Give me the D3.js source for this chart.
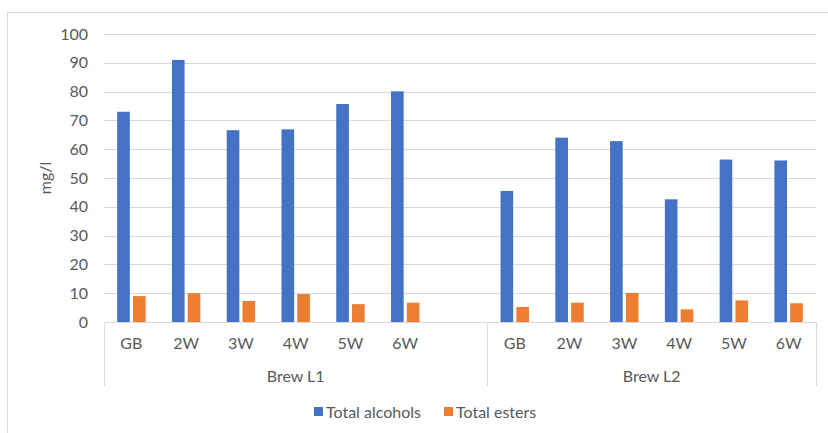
<!DOCTYPE html>
<html>
<head>
<meta charset="utf-8">
<script src="https://cdn.jsdelivr.net/npm/d3@7"></script>
<style>
  html, body { margin: 0; padding: 0; background: #fff; }
  svg { display: block; font-family: Lato, "Open Sans", sans-serif; }
</style>
</head>
<body>
<svg id="chart" width="828" height="433"></svg>
<script>
// Brew groups and their sampling points (Brew L1 keeps an empty trailing slot)
const groups = ["Brew L1", "Brew L2"];
const l1Points = ["GB", "2W", "3W", "4W", "5W", "6W", ""];
const l2Points = ["GB", "2W", "3W", "4W", "5W", "6W"];

// Series values, mg/l
const seriesNames = ["Total alcohols", "Total esters"];
const alcoholsL1 = [73.0, 91.0, 66.6, 66.9, 75.7, 80.1, null];
const alcoholsL2 = [45.5, 64.0, 62.8, 42.6, 56.4, 56.1];
const estersL1 = [9.0, 10.0, 7.3, 9.7, 6.2, 6.7, null];
const estersL2 = [5.2, 6.7, 10.1, 4.4, 7.5, 6.5];

const yTicks = [0, 10, 20, 30, 40, 50, 60, 70, 80, 90, 100];
const colors = ["#4472C4", "#ED7D31"];

// Flattened category rows
const rows = [];
l1Points.forEach((p, i) => rows.push({ key: "L1-" + i, group: groups[0], label: p, values: [alcoholsL1[i], estersL1[i]] }));
l2Points.forEach((p, i) => rows.push({ key: "L2-" + i, group: groups[1], label: p, values: [alcoholsL2[i], estersL2[i]] }));

const svg = d3.select("#chart");
const plot = { left: 104, right: 816, top: 34, bottom: 322 };
const textColor = "#595959";
const lineColor = "#D9D9D9";
const fontSize = "16px";

// Outer chart frame
svg.append("rect")
  .attr("x", 7.5).attr("y", 12.5)
  .attr("width", 840).attr("height", 440)
  .attr("fill", "none").attr("stroke", lineColor).attr("stroke-width", 1);

const x = d3.scaleBand().domain(rows.map(d => d.key)).range([plot.left, plot.right]).padding(0);
const clusterWidth = x.bandwidth() * 0.519;
const xs = d3.scaleBand().domain(seriesNames)
  .range([(x.bandwidth() - clusterWidth) / 2, (x.bandwidth() + clusterWidth) / 2])
  .paddingInner(0.2).paddingOuter(0);
const y = d3.scaleLinear().domain([0, 100]).range([plot.bottom, plot.top]);

// Horizontal gridlines
svg.append("g")
  .selectAll("line")
  .data(yTicks.filter(t => t > 0))
  .join("line")
  .attr("x1", plot.left).attr("x2", plot.right)
  .attr("y1", d => Math.round(y(d)) + 0.5).attr("y2", d => Math.round(y(d)) + 0.5)
  .attr("stroke", lineColor).attr("stroke-width", 1);

// Y axis labels
const yAxis = d3.axisLeft(y).tickValues(yTicks).tickSize(0).tickPadding(0);
const yG = svg.append("g").attr("transform", `translate(${plot.left - 16},0)`).call(yAxis);
yG.select(".domain").remove();
yG.selectAll("text").attr("fill", textColor).style("font-size", fontSize).style("font-family", "Lato, sans-serif");

// Y axis title
svg.append("text")
  .attr("transform", `translate(51,${(plot.top + plot.bottom) / 2}) rotate(-90)`)
  .attr("text-anchor", "middle")
  .attr("fill", textColor).style("font-size", fontSize)
  .text("mg/l");

// Bars
const cat = svg.append("g").selectAll("g")
  .data(rows)
  .join("g")
  .attr("transform", d => `translate(${x(d.key)},0)`);

cat.selectAll("rect")
  .data(d => d.values.map((v, i) => ({ name: seriesNames[i], value: v, i })).filter(e => e.value != null))
  .join("rect")
  .attr("x", d => xs(d.name))
  .attr("width", xs.bandwidth())
  .attr("y", d => y(d.value))
  .attr("height", d => y(0) - y(d.value))
  .attr("fill", d => colors[d.i]);

// Category axis line
svg.append("line")
  .attr("x1", plot.left).attr("x2", plot.right)
  .attr("y1", plot.bottom + 0.5).attr("y2", plot.bottom + 0.5)
  .attr("stroke", lineColor).attr("stroke-width", 1);

// Inner category labels
svg.append("g").selectAll("text")
  .data(rows)
  .join("text")
  .attr("x", d => x(d.key) + x.bandwidth() / 2)
  .attr("y", 349)
  .attr("text-anchor", "middle")
  .attr("fill", textColor).style("font-size", fontSize)
  .text(d => d.label);

// Group separators and group labels
const groupSpans = groups.map(g => {
  const keys = rows.filter(r => r.group === g).map(r => r.key);
  return { name: g, x0: x(keys[0]), x1: x(keys[keys.length - 1]) + x.bandwidth() };
});
const sepX = Array.from(new Set(groupSpans.flatMap(s => [s.x0, s.x1])));
svg.append("g").selectAll("line")
  .data(sepX)
  .join("line")
  .attr("x1", d => Math.round(d) + 0.5).attr("x2", d => Math.round(d) + 0.5)
  .attr("y1", plot.bottom).attr("y2", 386)
  .attr("stroke", lineColor).attr("stroke-width", 1);

svg.append("g").selectAll("text")
  .data(groupSpans)
  .join("text")
  .attr("x", d => (d.x0 + d.x1) / 2)
  .attr("y", 381.5)
  .attr("text-anchor", "middle")
  .attr("fill", textColor).style("font-size", fontSize)
  .text(d => d.name);

// Legend
const legend = svg.append("g");
const legendItems = [{ name: seriesNames[0], x: 314 }, { name: seriesNames[1], x: 444 }];
legendItems.forEach((item, i) => {
  legend.append("rect")
    .attr("x", item.x).attr("y", 407)
    .attr("width", 9).attr("height", 9)
    .attr("fill", colors[i]);
  legend.append("text")
    .attr("x", item.x + 12).attr("y", 417.5)
    .attr("fill", textColor).style("font-size", fontSize)
    .text(item.name);
});
</script>
</body>
</html>
